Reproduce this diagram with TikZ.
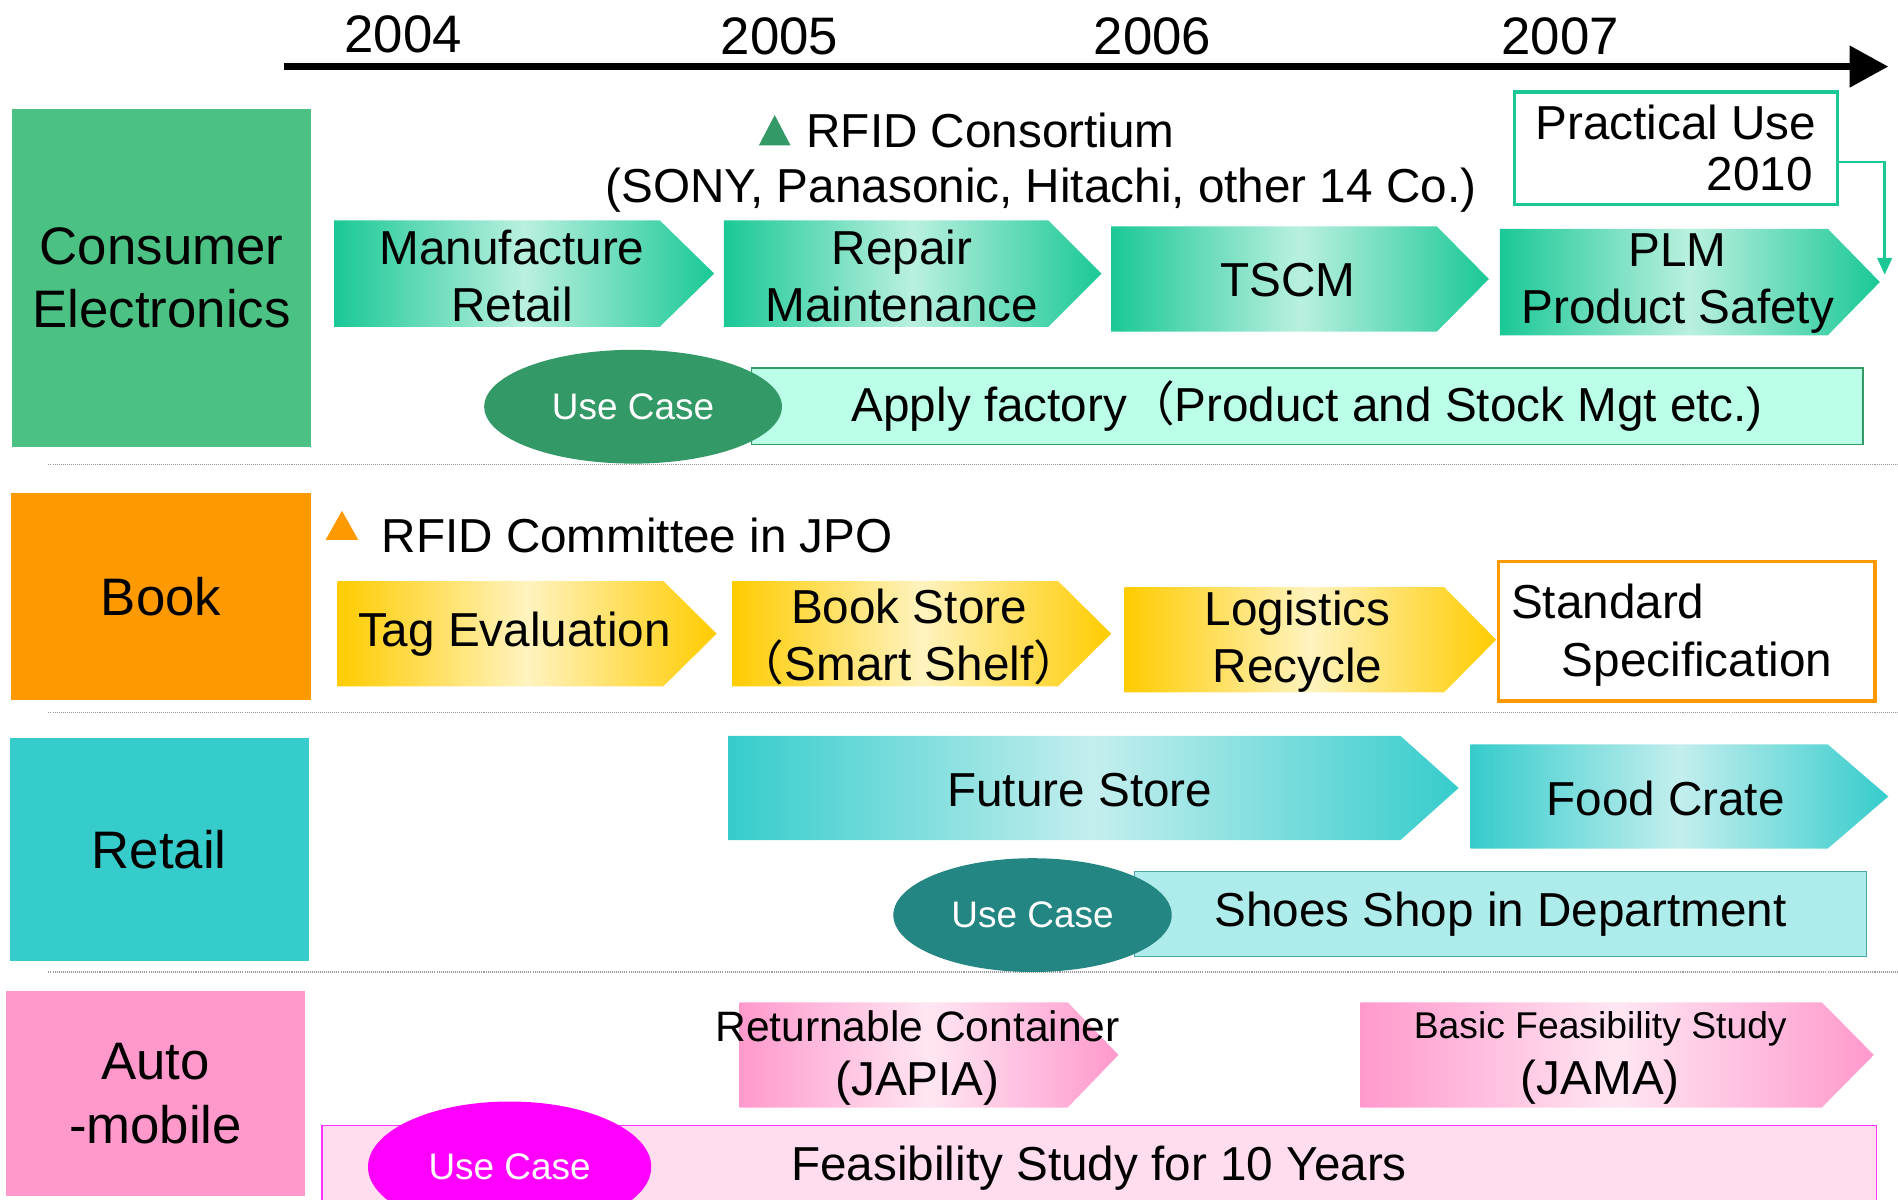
\documentclass[tikz,border=0pt]{standalone}
\usepackage{fontspec}
\setmainfont{Liberation Sans}
\newfontfamily\cjk{Noto Sans CJK SC}
\usetikzlibrary{arrows.meta,shapes.geometric}

\definecolor{cegreen}{HTML}{4BC184}
\definecolor{casegreen}{HTML}{339966}
\definecolor{arrgreen}{HTML}{1AC896}
\definecolor{palegreen}{HTML}{BAF0E0}
\definecolor{mintfill}{HTML}{BBFFE9}
\definecolor{bookorange}{HTML}{FF9900}
\definecolor{arryellow}{HTML}{FFCC00}
\definecolor{paleyellow}{HTML}{FFF3BF}
\definecolor{retailteal}{HTML}{36CCCC}
\definecolor{paleteal}{HTML}{C4EEEE}
\definecolor{caseteal}{HTML}{238682}
\definecolor{shoefill}{HTML}{AEEBEB}
\definecolor{shoeline}{HTML}{4AA8A8}
\definecolor{autopink}{HTML}{FF99CC}
\definecolor{palepink}{HTML}{FFE6F2}
\definecolor{feasfill}{HTML}{FFDDEE}
\definecolor{casemagenta}{HTML}{FF00FF}

\newcommand{\pxu}{0.025cm}
\newcommand{\catfont}{\fontsize{31}{37.5}\selectfont}
\newcommand{\rowfont}{\fontsize{28}{33.4}\selectfont}
\newcommand{\casefont}{\fontsize{21.7}{26}\selectfont}
\newcommand{\chevron}[6]{\shade[#1] (#2,#5) -- (#3,#5) -- (#4,{(#5+#6)/2}) -- (#3,#6) -- (#2,#6) -- cycle;}

\tikzset{
  catbox/.style={rectangle, inner sep=0pt, outer sep=0pt, align=center, font=\catfont},
  usecase/.style={ellipse, inner sep=0pt, text=white, font=\casefont},
  casebar/.style={rectangle, inner sep=0pt, outer sep=0pt, line width=0.8pt, font=\rowfont},
  txt/.style={inner sep=0pt, align=center, font=\rowfont},
  greenarr/.style={left color=arrgreen, right color=arrgreen, middle color=palegreen},
  yellowarr/.style={left color=arryellow, right color=arryellow, middle color=paleyellow},
  tealarr/.style={left color=retailteal, right color=retailteal, middle color=paleteal},
  pinkarr/.style={left color=autopink, right color=autopink, middle color=palepink},
  sepline/.style={gray!80, line width=0.6pt, dash pattern=on 0.6pt off 0.6pt}
}

\begin{document}
\begin{tikzpicture}[x=0.025cm, y=-0.025cm]
\useasboundingbox (0,0) rectangle (1568,991);
\fill[white] (0,0) rectangle (1568,991);
\clip (0,0) rectangle (1568,991);

\coordinate (tstart) at (235,55);
\coordinate (tend) at (1560,55);
\draw[line width=4.3pt, -{Triangle[length=0.8cm, width=0.83cm]}] (tstart) -- (tend);
\node[catbox] (y2004) at (333,28) {2004};
\node[catbox] (y2005) at (644,30) {2005};
\node[catbox] (y2006) at (952,30) {2006};
\node[catbox] (y2007) at (1289,30) {2007};

\node[catbox, fill=cegreen, minimum width=247*\pxu, minimum height=279*\pxu] (ce) at (133.5,229.5) {Consumer\\Electronics};
\node[catbox, fill=bookorange, minimum width=248*\pxu, minimum height=171*\pxu] (book) at (133,492.5) {Book};
\node[catbox, fill=retailteal, minimum width=247*\pxu, minimum height=184*\pxu] (retail) at (131.5,702) {Retail};
\node[catbox, fill=autopink, minimum width=247*\pxu, minimum height=169*\pxu] (auto) at (128.5,903.5) {Auto\\-mobile};

\draw[sepline] (40,384) -- (1568,384);
\draw[sepline] (40,589) -- (1568,589);
\draw[sepline] (40,803) -- (1568,803);

\fill[casegreen] (627,120) -- (653,120) -- (640,95) -- cycle;
\node[txt, anchor=west] (rfidc) at (666,108) {RFID Consortium};
\node[txt] (members) at (860,157) {(SONY, Panasonic, Hitachi, other 14 Co.)};
\node[rectangle, draw=arrgreen, line width=2.1pt, inner sep=0pt, minimum width=267*\pxu, minimum height=93*\pxu, align=right, font=\fontsize{28}{30}\selectfont] (prac) at (1384.5,122.5) {Practical Use\\2010\hspace*{2pt}};

\chevron{greenarr}{276}{545}{590}{182}{270}
\chevron{greenarr}{598}{866}{910}{182}{270}
\chevron{greenarr}{918}{1187}{1230}{187}{274}
\chevron{greenarr}{1239}{1510}{1553}{189}{277}
\node[txt] (mfr) at (423,228) {Manufacture\\Retail};
\node[txt] (repair) at (745,228) {Repair\\Maintenance};
\node[txt] (tscm) at (1064,231) {TSCM};
\node[txt] (plm) at (1386,234) {PLM\\Product Safety};
\coordinate (plmend) at (1557,227);
\draw[arrgreen, line width=1.6pt, -{Triangle[length=0.35cm, width=0.3cm]}] ([yshift=-8pt]prac.east) -| (plmend);

\node[casebar, fill=mintfill, draw=casegreen, minimum width=918*\pxu, minimum height=63*\pxu] (apply) at (1080,335.5) {Apply factory{\cjk （}Product and Stock Mgt etc.)};
\node[usecase, fill=casegreen, minimum width=246*\pxu, minimum height=94*\pxu] (uc1) at (523,336) {Use Case};

\fill[bookorange] (269,446) -- (296,446) -- (282.5,422) -- cycle;
\node[txt, anchor=west] (jpo) at (315,442) {RFID Committee in JPO};
\chevron{yellowarr}{279}{548}{592}{480}{567}
\chevron{yellowarr}{605}{874}{918}{480}{567}
\chevron{yellowarr}{929}{1193}{1236}{485}{572}
\node[txt] (tag) at (425,524) {Tag Evaluation};
\node[txt] (store) at (751,526) {Book Store\\{\cjk （}Smart Shelf{\cjk ）}};
\node[txt] (logi) at (1072,530) {Logistics\\Recycle};
\node[rectangle, draw=bookorange, line width=2.1pt, inner sep=0pt, minimum width=311*\pxu, minimum height=115*\pxu] (spec) at (1393.5,521.5) {};
\node[txt, anchor=west, align=left, font=\fontsize{28}{34}\selectfont] (spectxt) at (1248,525) {Standard\\\hspace*{1.05cm}Specification};

\chevron{tealarr}{602}{1157}{1205}{608}{694}
\chevron{tealarr}{1215}{1510}{1560}{615}{701}
\node[txt] (future) at (892,653) {Future Store};
\node[txt] (food) at (1376,660) {Food Crate};
\node[casebar, fill=shoefill, draw=shoeline, minimum width=605*\pxu, minimum height=70*\pxu] (shoes) at (1239.5,755) {Shoes Shop in Department};
\node[usecase, fill=caseteal, minimum width=230*\pxu, minimum height=94*\pxu] (uc2) at (853,756) {Use Case};

\chevron{pinkarr}{611}{882}{924}{828}{915}
\chevron{pinkarr}{1124}{1505}{1548}{828}{915}
\node[txt, font=\fontsize{28}{31.5}\selectfont] (japia) at (758,874) {{\fontsize{25}{30}\selectfont Returnable Container}\\(JAPIA)};
\node[txt, font=\fontsize{28}{30.6}\selectfont] (jama) at (1322,874) {{\fontsize{21.9}{26}\selectfont Basic Feasibility Study}\\[2pt](JAMA)};
\node[casebar, fill=feasfill, draw=casemagenta!80, minimum width=1284*\pxu, minimum height=70*\pxu] (feas) at (908,965) {Feasibility Study for 10 Years};
\node[usecase, fill=casemagenta, minimum width=234*\pxu, minimum height=108*\pxu] (uc3) at (421,964) {Use Case};
\end{tikzpicture}
\end{document}
